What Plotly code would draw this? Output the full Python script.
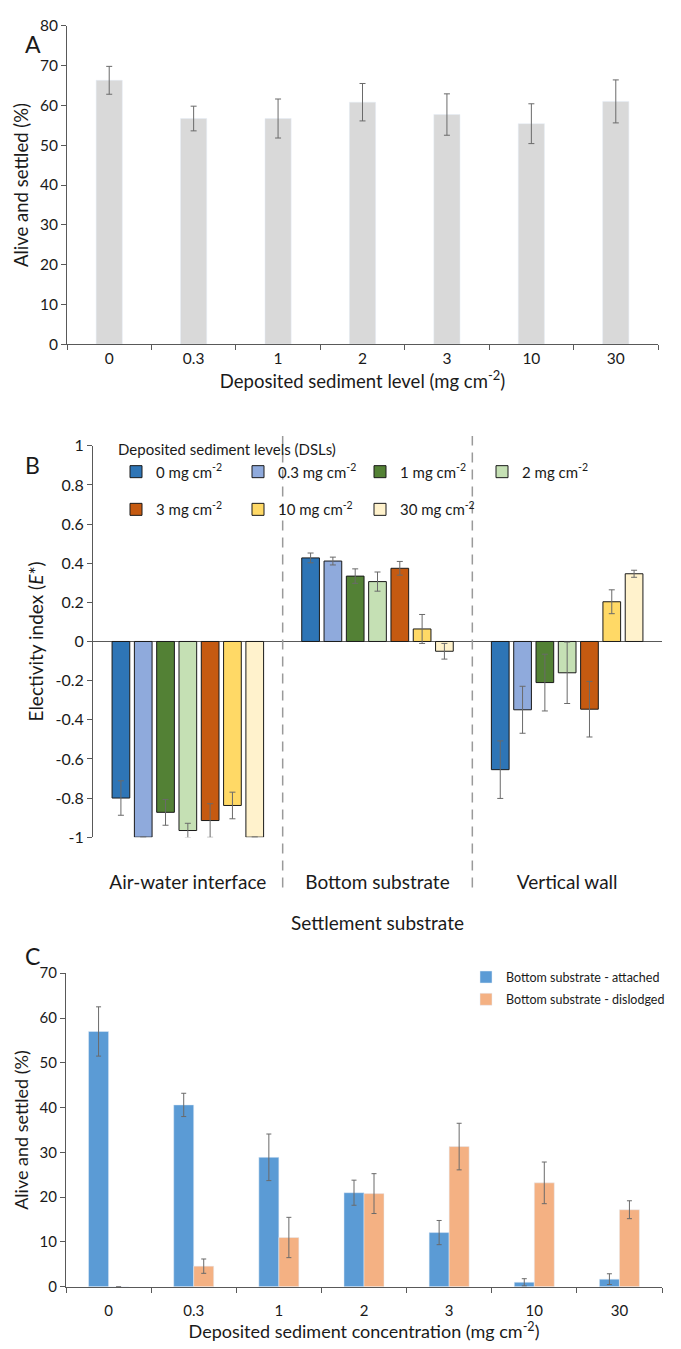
import plotly.graph_objects as go

W, H = 681, 1349
FONT = "Lato"
TXT = "#1a1a1a"
AX = "#595959"
ERR = "#6a6a6a"

# ---------------- Panel A data ----------------
a_levels = ["0", "0.3", "1", "2", "3", "10", "30"]
a_mean = [66.3, 56.7, 56.7, 60.8, 57.7, 55.4, 61.0]
a_err = [3.5, 3.1, 4.9, 4.7, 5.2, 5.0, 5.4]

# ---------------- Panel B data ----------------
b_substrates = ["Air-water interface", "Bottom substrate", "Vertical wall"]
b_dsl_labels = ["0 mg cm<sup>-2</sup>", "0.3 mg cm<sup>-2</sup>", "1 mg cm<sup>-2</sup>",
                "2 mg cm<sup>-2</sup>", "3 mg cm<sup>-2</sup>", "10 mg cm<sup>-2</sup>",
                "30 mg cm<sup>-2</sup>"]
b_dsl0 = [-0.800, 0.427, -0.655]
b_dsl0_err = [0.088, 0.025, 0.147]
b_dsl03 = [-1.000, 0.411, -0.349]
b_dsl03_err = [None, 0.020, 0.120]
b_dsl1 = [-0.873, 0.334, -0.210]
b_dsl1_err = [0.066, 0.037, 0.145]
b_dsl2 = [-0.966, 0.306, -0.160]
b_dsl2_err = [0.037, 0.049, 0.157]
b_dsl3 = [-0.915, 0.374, -0.346]
b_dsl3_err = [0.086, 0.035, 0.142]
b_dsl10 = [-0.838, 0.064, 0.203]
b_dsl10_err = [0.068, 0.074, 0.061]
b_dsl30 = [-1.000, -0.050, 0.346]
b_dsl30_err = [None, 0.040, 0.018]
b_ticks = [1, 0.8, 0.6, 0.4, 0.2, 0, -0.2, -0.4, -0.6, -0.8, -1]
b_ticktext = ["1", "0.8", "0.6", "0.4", "0.2", "0", "-0.2", "-0.4", "-0.6", "-0.8", "-1"]

# ---------------- Panel C data ----------------
c_levels = ["0", "0.3", "1", "2", "3", "10", "30"]
c_attached = [57.0, 40.6, 28.9, 21.0, 12.1, 1.0, 1.7]
c_attached_err = [5.5, 2.6, 5.2, 2.8, 2.7, 0.8, 1.2]
c_dislodged = [0.0, 4.6, 11.0, 20.8, 31.3, 23.2, 17.2]
c_dislodged_err = [None, 1.6, 4.5, 4.45, 5.2, 4.65, 2.0]

# ---------------- styling ----------------
b_colors = ["#2E75B6", "#8FAADC", "#538135", "#C5E0B4", "#C55A11", "#FFD966", "#FFF2CC"]
b_means = [b_dsl0, b_dsl03, b_dsl1, b_dsl2, b_dsl3, b_dsl10, b_dsl30]
b_errs = [b_dsl0_err, b_dsl03_err, b_dsl1_err, b_dsl2_err, b_dsl3_err, b_dsl10_err, b_dsl30_err]


def px_x(x):
    return x / W


def px_y(y):
    return 1 - y / H


def err(arr, w=3):
    return dict(type="data", array=arr, visible=True, color=ERR, thickness=1, width=w)


def f(size):
    return dict(family=FONT, size=size, color=TXT)


fig = go.Figure()

# Panel A
fig.add_trace(go.Bar(x=a_levels, y=a_mean, error_y=err(a_err), marker_color="#D9D9D9",
                     width=0.31, offset=-0.155, showlegend=False, xaxis="x", yaxis="y"))

# Panel B
B_W = 0.0933
B_P = 0.1176
for i in range(7):
    fig.add_trace(go.Bar(x=b_substrates, y=b_means[i], error_y=err(b_errs[i]),
                         name=b_dsl_labels[i],
                         marker=dict(color=b_colors[i], line=dict(color="#1a1a1a", width=1)),
                         width=B_W, offset=(i - 3) * B_P - B_W / 2,
                         legend="legend2" if i < 4 else "legend3",
                         xaxis="x2", yaxis="y2"))

# Panel C
C_W = 0.235
fig.add_trace(go.Bar(x=c_levels, y=c_attached, error_y=err(c_attached_err, 2.5),
                     name="Bottom substrate - attached", marker_color="#5B9BD5",
                     width=C_W, offset=-C_W, legend="legend", legendgroup="a",
                     xaxis="x3", yaxis="y3"))
fig.add_trace(go.Bar(x=c_levels, y=c_dislodged, error_y=err(c_dislodged_err, 2.5),
                     name="Bottom substrate - dislodged", marker_color="#F4B183",
                     width=C_W, offset=0, legend="legend", legendgroup="b",
                     xaxis="x3", yaxis="y3"))

fig.update_layout(
    width=W, height=H,
    margin=dict(l=0, r=0, t=0, b=0),
    paper_bgcolor="white", plot_bgcolor="white",
    barmode="overlay",
    font=f(15),
    # Panel A axes
    xaxis=dict(domain=[px_x(67), px_x(658)], anchor="y", type="category",
               showline=True, linecolor=AX, linewidth=1, ticks="outside", tickson="boundaries",
               ticklen=5, tickcolor=AX, tickfont=f(15.5), showgrid=False,
               title=dict(text="Deposited sediment level (mg cm<sup>-2</sup>)",
                          font=f(18.5), standoff=5)),
    yaxis=dict(domain=[px_y(339), px_y(16)], anchor="x", range=[0, 80], dtick=10,
               showline=True, linecolor=AX, linewidth=1, ticks="outside", ticklen=5,
               tickcolor=AX, tickfont=f(15.5), showgrid=False, zeroline=False,
               title=dict(text="Alive and settled (%)", font=f(18.5), standoff=6)),
    # Panel B axes
    xaxis2=dict(domain=[px_x(93), px_x(662)], anchor="y2", type="category",
                showline=False, ticks="", showgrid=False, ticklabelstandoff=32,
                tickfont=f(19),
                title=dict(text="Settlement substrate", font=f(19), standoff=24)),
    yaxis2=dict(domain=[px_y(839), px_y(442)], anchor="x2", range=[-1, 1],
                tickmode="array", tickvals=b_ticks, ticktext=b_ticktext,
                showline=True, linecolor=AX, linewidth=1, ticks="outside", ticklen=5,
                tickcolor=AX, tickfont=f(16), showgrid=False,
                zeroline=True, zerolinecolor=AX, zerolinewidth=1,
                title=dict(text="Electivity index (<i>E</i>*)", font=f(19), standoff=6)),
    # Panel C axes
    xaxis3=dict(domain=[px_x(66), px_x(662)], anchor="y3", type="category",
                showline=True, linecolor=AX, linewidth=1, ticks="outside", tickson="boundaries",
                ticklen=5, tickcolor=AX, tickfont=f(15), showgrid=False, ticklabelstandoff=10,
                title=dict(text="Deposited sediment concentration (mg cm<sup>-2</sup>)",
                           font=f(18), standoff=4)),
    yaxis3=dict(domain=[px_y(1295), px_y(977)], anchor="x3", range=[0, 70], dtick=10,
                showline=True, linecolor=AX, linewidth=1, ticks="outside", ticklen=5,
                tickcolor=AX, tickfont=f(15), showgrid=False, zeroline=False,
                title=dict(text="Alive and settled (%)", font=f(18), standoff=6)),
    legend=dict(x=px_x(466), y=px_y(966), xanchor="left", yanchor="top",
                orientation="v", font=f(12.5),
                bgcolor="rgba(0,0,0,0)", tracegroupgap=3, itemwidth=30),
    legend2=dict(x=px_x(116), y=px_y(432), xanchor="left", yanchor="top",
                 orientation="h", font=f(15),
                 title=dict(text="Deposited sediment levels (DSLs)", side="top", font=f(15)),
                 entrywidth=77, entrywidthmode="pixels",
                 bgcolor="rgba(0,0,0,0)", itemwidth=30),
    legend3=dict(x=px_x(116), y=px_y(490), xanchor="left", yanchor="top",
                 orientation="h", font=f(15),
                 entrywidth=77, entrywidthmode="pixels",
                 bgcolor="rgba(0,0,0,0)", itemwidth=30),
)

# dashed separators in panel B at the category boundaries
for xb in [0.5, 1.5]:
    fig.add_shape(type="line", xref="x2", yref="paper", x0=xb, x1=xb,
                  y0=px_y(890), y1=px_y(432),
                  line=dict(color="#9a9a9a", width=1.5, dash="10px,7px"))

# panel letters
for letter, x, y in [("A", 23, 18), ("B", 23, 445), ("C", 23, 976)]:
    fig.add_annotation(text=letter, x=px_x(x), y=px_y(y), xref="paper", yref="paper",
                       showarrow=False, font=f(23))

fig.write_html("out.html")
